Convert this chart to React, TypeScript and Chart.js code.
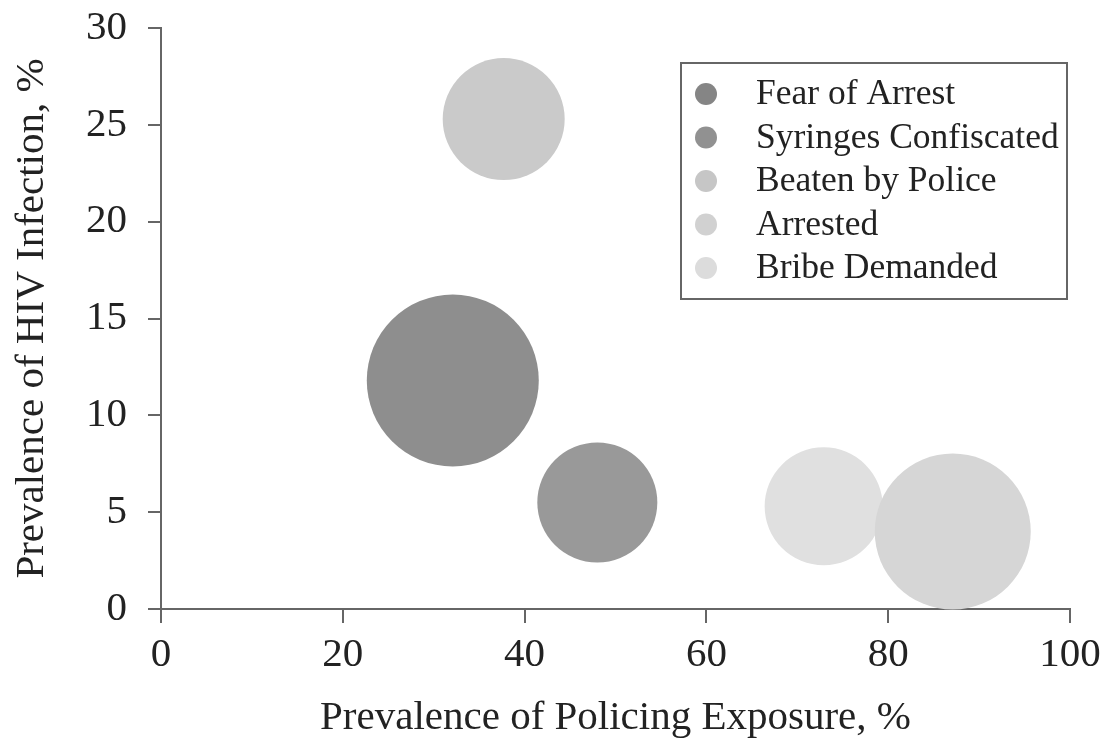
import React, { useEffect, useRef } from "react";
import { Chart, registerables } from "chart.js";

Chart.register(...registerables);

const seriesNames = ["Fear of Arrest", "Syringes Confiscated", "Beaten by Police", "Arrested", "Bribe Demanded"];
const policingExposure = [32.1, 48.0, 37.7, 87.1, 72.9];
const hivPrevalence = [11.8, 5.5, 25.3, 4.0, 5.3];
const bubbleRadius = [86, 60, 61, 78, 59];
const seriesColors = ["#8e8e8e", "#999999", "#cacaca", "#d6d6d6", "#e0e0e0"];
const legendColors = ["#858585", "#919191", "#c6c6c6", "#d1d1d1", "#dcdcdc"];

const FONT = "'Liberation Serif', 'Times New Roman', serif";

const boxLegend = {
  id: "boxLegend",
  afterDraw(chart: any) {
    const ctx = chart.ctx;
    const left = 681, top = 63, right = 1067, bottom = 299;
    ctx.save();
    ctx.strokeStyle = "#666";
    ctx.lineWidth = 2;
    ctx.strokeRect(left, top, right - left, bottom - top);
    ctx.font = `35.5px ${FONT}`;
    ctx.textBaseline = "middle";
    ctx.textAlign = "left";
    chart.data.datasets.forEach((ds: any, i: number) => {
      const y = 94 + i * 43.5;
      ctx.beginPath();
      ctx.arc(706, y, 11, 0, Math.PI * 2);
      ctx.fillStyle = legendColors[i];
      ctx.fill();
      ctx.fillStyle = "#222";
      ctx.fillText(ds.label, 756, y + 1);
    });
    ctx.restore();
  },
};

export default function App() {
  const ref = useRef<HTMLCanvasElement | null>(null);
  useEffect(() => {
    if (!ref.current) return;
    const chart = new Chart(ref.current, {
      type: "bubble",
      data: {
        datasets: seriesNames.map((name, i) => ({
          label: name,
          data: [{ x: policingExposure[i], y: hivPrevalence[i], r: bubbleRadius[i] }],
          backgroundColor: seriesColors[i],
          borderWidth: 0,
          hoverRadius: 0,
          clip: false as any,
        })),
      },
      options: {
        responsive: false,
        animation: false,
        layout: { autoPadding: false, padding: { top: 28, right: 37, left: 0, bottom: 0 } },
        plugins: { legend: { display: false }, tooltip: { enabled: false } },
        scales: {
          x: {
            type: "linear",
            min: 0,
            max: 100,
            ticks: { stepSize: 20, color: "#222", font: { family: FONT, size: 41 }, padding: 8 },
            grid: { drawOnChartArea: false, drawTicks: true, tickLength: 14, color: "#666", lineWidth: 2 },
            border: { display: true, color: "#666", width: 2 },
            title: {
              display: true,
              text: "Prevalence of Policing Exposure, %",
              color: "#222",
              font: { family: FONT, size: 41 },
              padding: { top: 0, bottom: 2 },
            },
            afterFit(scale: any) {
              scale.height = 136;
              scale.paddingLeft = 0;
              scale.paddingRight = 0;
            },
          },
          y: {
            type: "linear",
            min: 0,
            max: 30,
            ticks: { stepSize: 5, color: "#222", font: { family: FONT, size: 41 }, padding: 21 },
            grid: { drawOnChartArea: false, drawTicks: true, tickLength: 13, color: "#666", lineWidth: 2 },
            border: { display: true, color: "#666", width: 2 },
            title: {
              display: true,
              text: "Prevalence of HIV Infection, %",
              color: "#222",
              font: { family: FONT, size: 41 },
              padding: { top: 8, bottom: 0 },
            },
            afterFit(scale: any) {
              scale.width = 161;
              scale.paddingTop = 0;
              scale.paddingBottom = 0;
            },
          },
        },
      },
      plugins: [boxLegend],
    });
    return () => chart.destroy();
  }, []);
  return (
    <canvas
      ref={ref}
      width={1107}
      height={745}
      style={{ position: "absolute", left: 0, top: 0, display: "block", background: "#fff" }}
    />
  );
}
